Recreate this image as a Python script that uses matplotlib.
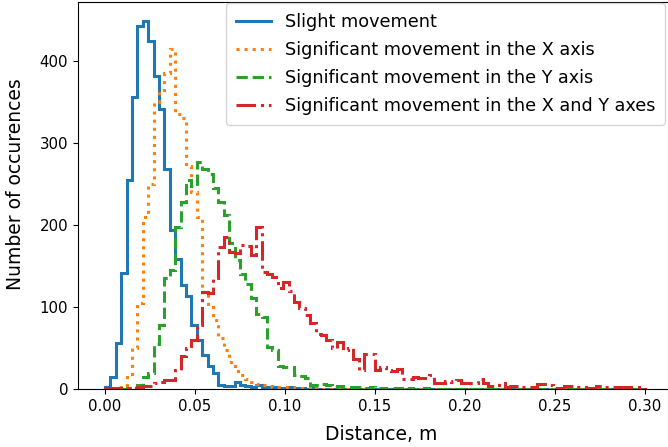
import numpy as np
import matplotlib
matplotlib.use("Agg")
import matplotlib.pyplot as plt
from matplotlib.lines import Line2D

# Shared histogram bins: 100 bins between 0 and 0.3 m
bin_lo, bin_hi, n_bins = 0.0, 0.3, 100

slight = [
    3, 15, 56, 141, 255, 356, 443, 449, 424, 382,
    342, 268, 194, 159, 127, 113, 78, 60, 41, 28,
    19, 5, 4, 4, 9, 5, 4, 3, 5, 3,
    2, 2, 1, 1, 2, 1, 1, 0, 1, 0,
    0, 0, 0, 0, 0, 0, 0, 0, 0, 0,
    0, 0, 0, 0, 0, 0, 0, 0, 0, 0,
    0, 0, 0, 0, 0, 0, 0, 0, 0, 0,
    0, 0, 0, 0, 0, 0, 0, 0, 0, 0,
    0, 0, 0, 0, 0, 0, 0, 0, 0, 0,
    0, 0, 0, 0, 0, 0, 0, 0, 0, 0,
]

move_x = [
    0, 0, 2, 5, 15, 50, 105, 210, 250, 350,
    365, 385, 415, 335, 330, 272, 240, 210, 118, 100,
    84, 62, 48, 33, 22, 17, 12, 9, 6, 5,
    4, 3, 3, 2, 2, 1, 1, 1, 0, 1,
    0, 0, 0, 0, 0, 0, 0, 0, 0, 0,
    0, 0, 0, 0, 0, 0, 0, 0, 0, 0,
    0, 0, 0, 0, 0, 0, 0, 0, 0, 0,
    0, 0, 0, 0, 0, 0, 0, 0, 0, 0,
    0, 0, 0, 0, 0, 0, 0, 0, 0, 0,
    0, 0, 0, 0, 0, 0, 0, 0, 0, 0,
]

move_y = [
    0, 0, 0, 0, 1, 2, 5, 15, 20, 55,
    78, 135, 145, 198, 228, 255, 248, 277, 268, 262,
    245, 228, 212, 178, 157, 140, 128, 111, 92, 88,
    51, 48, 28, 27, 27, 17, 16, 13, 5, 5,
    6, 5, 3, 4, 3, 3, 2, 2, 1, 2,
    1, 1, 0, 1, 1, 0, 1, 0, 0, 1,
    0, 0, 0, 0, 0, 0, 0, 0, 0, 0,
    0, 0, 0, 0, 0, 0, 0, 0, 0, 0,
    0, 0, 0, 0, 0, 0, 0, 0, 0, 0,
    0, 0, 0, 0, 0, 0, 0, 0, 0, 0,
]

move_xy = [
    1, 1, 1, 0, 0, 1, 3, 4, 4, 7,
    8, 11, 11, 23, 40, 50, 60, 78, 118, 117,
    135, 173, 185, 167, 166, 176, 174, 164, 198, 143,
    140, 137, 123, 130, 120, 106, 99, 90, 80, 67,
    66, 60, 50, 57, 47, 50, 36, 23, 43, 43,
    23, 27, 23, 22, 24, 12, 12, 15, 14, 14,
    17, 7, 7, 10, 8, 11, 7, 7, 7, 12,
    7, 4, 5, 7, 3, 4, 4, 3, 2, 2,
    6, 6, 5, 1, 1, 4, 4, 2, 2, 1,
    1, 4, 3, 2, 2, 3, 2, 2, 2, 2,
]

labels = [
    "Slight movement",
    "Significant movement in the X axis",
    "Significant movement in the Y axis",
    "Significant movement in the X and Y axes",
]
styles = ["-", ":", "--", "-."]
colors = ["C0", "C1", "C2", "C3"]

edges = np.linspace(bin_lo, bin_hi, n_bins + 1)
centers = (edges[:-1] + edges[1:]) / 2

fig = plt.figure(figsize=(6.68, 4.47), dpi=100)
ax = fig.add_axes([78 / 668, 58 / 447, 594 / 668, 386.6 / 447])

handles = []
for counts, label, ls, color in zip([slight, move_x, move_y, move_xy], labels, styles, colors):
    ax.hist(centers, bins=edges, weights=counts, histtype="step",
            linestyle=ls, linewidth=2.2, color=color)
    handles.append(Line2D([], [], linestyle=ls, linewidth=2.2, color=color))

ax.set_xticks([0.0, 0.05, 0.10, 0.15, 0.20, 0.25, 0.30])
ax.tick_params(labelsize=10.8)

ax.set_xlabel("Distance, m", fontsize=13.5)
ax.set_ylabel("Number of occurences", fontsize=13.5)
ax.xaxis.set_label_coords(0.511, -0.093)
ax.yaxis.set_label_coords(-0.09, 0.53)

ax.legend(handles, labels, loc="upper right", fontsize=12.7, labelspacing=0.57,
          borderpad=0.55, borderaxespad=0, bbox_to_anchor=(665 / 668, 1 - 3 / 447),
          bbox_transform=fig.transFigure)

fig.savefig("out.png", dpi=100)
